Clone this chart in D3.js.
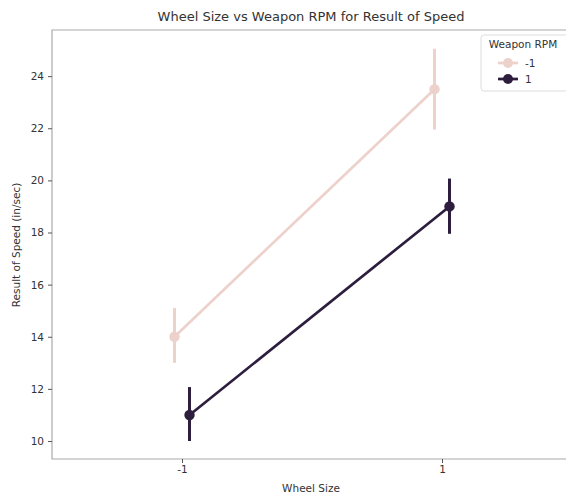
<!DOCTYPE html>
<html>
<head>
<meta charset="utf-8">
<script src="https://cdn.jsdelivr.net/npm/d3@7"></script>
<style>
  body { margin: 0; background: #fff; }
  text { font-family: "DejaVu Sans", sans-serif; fill: #333; }
</style>
</head>
<body>
<svg class="chart"></svg>
<script>
// categories and series
var wheel_sizes = ["-1", "1"];
var rpm_levels = ["-1", "1"];
var means = { "-1": [14.0, 23.5], "1": [11.0, 19.0] };
var ci_low = { "-1": [13.0, 21.95], "1": [10.0, 17.95] };
var ci_high = { "-1": [15.1, 25.05], "1": [12.07, 20.07] };
var y_ticks = [10, 12, 14, 16, 18, 20, 22, 24];
var colors = { "-1": "#edd1cb", "1": "#2d1e3e" };

var width = 566, height = 497;
var margin = {top: 30, right: -6, bottom: 38, left: 52};
var graph_width = width - margin.left - margin.right,
    graph_height = height - margin.top - margin.bottom;

var svg = d3.select(".chart")
    .attr("width", width)
    .attr("height", height);

var x = d3.scalePoint()
    .domain(wheel_sizes)
    .range([0, graph_width])
    .padding(0.5);

var y = d3.scaleLinear()
    .domain([9.31, 25.77])
    .range([graph_height, 0]);

var dodge = d3.scalePoint()
    .domain(rpm_levels)
    .range([-7.5, 7.5]);

var chart = svg.append("g")
    .attr("transform", "translate(" + margin.left + "," + margin.top + ")");

// frame (left, top, bottom)
chart.append("path")
    .attr("d", "M" + graph_width + ",0H0V" + graph_height + "H" + graph_width)
    .attr("fill", "none")
    .attr("stroke", "#aaa")
    .attr("stroke-width", 1.2);

var yAxis = chart.append("g")
    .call(d3.axisLeft(y).tickValues(y_ticks).tickSize(4).tickPadding(4));
var xAxis = chart.append("g")
    .attr("transform", "translate(0," + graph_height + ")")
    .call(d3.axisBottom(x).tickSize(4).tickPadding(3));

[xAxis, yAxis].forEach(function(a) {
  a.select(".domain").remove();
  a.selectAll(".tick line").attr("stroke", "#555");
  a.selectAll(".tick text").style("font-size", "10.5px").style("fill", "#333")
    .style("font-family", "DejaVu Sans, sans-serif");
});

var line = d3.line()
    .x(function(d) { return x(d.x) + dodge(d.s); })
    .y(function(d) { return y(d.v); });

rpm_levels.forEach(function(s) {
  var pts = wheel_sizes.map(function(w, i) {
    return {x: w, s: s, v: means[s][i], lo: ci_low[s][i], hi: ci_high[s][i]};
  });
  var g = chart.append("g");
  g.append("path")
      .datum(pts)
      .attr("d", line)
      .attr("fill", "none")
      .attr("stroke", colors[s])
      .attr("stroke-width", 2.7);
  g.selectAll("line.err")
      .data(pts)
    .enter().append("line")
      .attr("x1", function(d) { return x(d.x) + dodge(d.s); })
      .attr("x2", function(d) { return x(d.x) + dodge(d.s); })
      .attr("y1", function(d) { return y(d.lo); })
      .attr("y2", function(d) { return y(d.hi); })
      .attr("stroke", colors[s])
      .attr("stroke-width", 3);
  g.selectAll("circle")
      .data(pts)
    .enter().append("circle")
      .attr("cx", function(d) { return x(d.x) + dodge(d.s); })
      .attr("cy", function(d) { return y(d.v); })
      .attr("r", 5.2)
      .attr("fill", colors[s]);
});

// title and labels
svg.append("text")
    .attr("x", 311).attr("y", 21)
    .attr("text-anchor", "middle")
    .style("font-size", "13px")
    .text("Wheel Size vs Weapon RPM for Result of Speed");

svg.append("text")
    .attr("x", 311).attr("y", 492)
    .attr("text-anchor", "middle")
    .style("font-size", "10.5px")
    .text("Wheel Size");

svg.append("text")
    .attr("transform", "translate(20,245) rotate(-90)")
    .attr("text-anchor", "middle")
    .style("font-size", "10.5px")
    .text("Result of Speed (in/sec)");

// legend
var legend = svg.append("g").attr("transform", "translate(481,35)");
legend.append("rect")
    .attr("width", 95).attr("height", 56)
    .attr("rx", 3)
    .attr("fill", "#fff")
    .attr("stroke", "#ddd");
legend.append("text")
    .attr("x", 42).attr("y", 13)
    .attr("text-anchor", "middle")
    .style("font-size", "10.5px")
    .text("Weapon RPM");
rpm_levels.forEach(function(s, i) {
  var ly = 28 + i * 16;
  legend.append("line")
      .attr("x1", 17).attr("x2", 37)
      .attr("y1", ly).attr("y2", ly)
      .attr("stroke", colors[s]).attr("stroke-width", 2.7);
  legend.append("circle")
      .attr("cx", 27).attr("cy", ly).attr("r", 5)
      .attr("fill", colors[s]);
  legend.append("text")
      .attr("x", 44).attr("y", ly + 3.5)
      .style("font-size", "10.5px")
      .text(s);
});
</script>
</body>
</html>
